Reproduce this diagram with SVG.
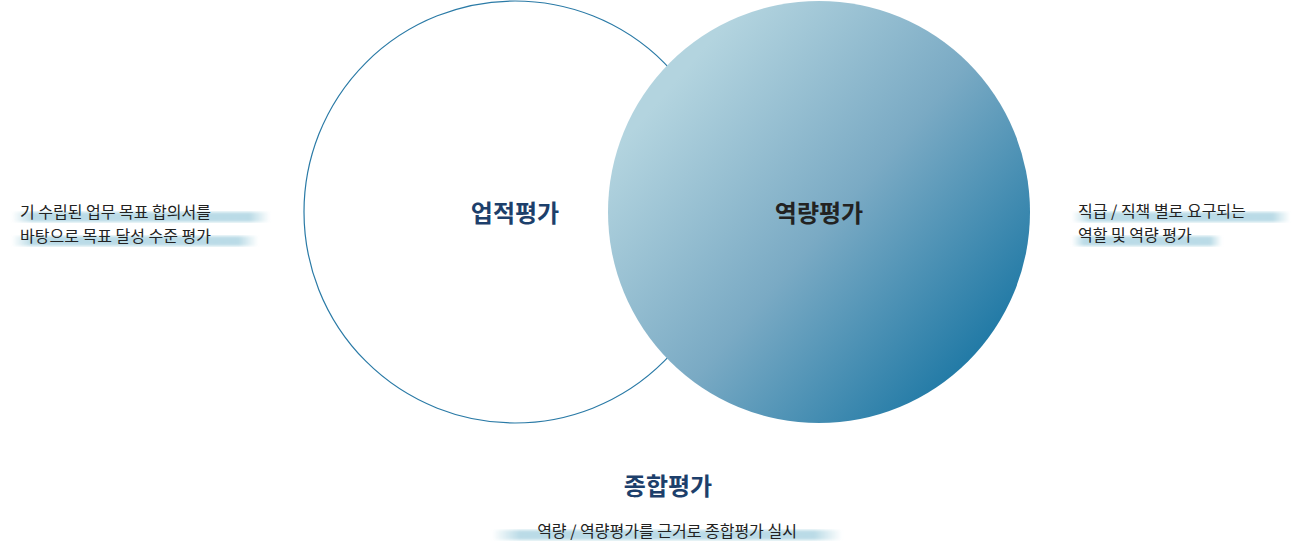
<svg xmlns="http://www.w3.org/2000/svg" width="1300" height="541" viewBox="0 0 1300 541">
<defs>
<linearGradient id="g" x1="0.15" y1="0.2" x2="0.9" y2="0.85">
<stop offset="0" stop-color="#b3d4df"/><stop offset="0.5" stop-color="#7aaac4"/><stop offset="1" stop-color="#1c77a4"/>
</linearGradient>
<linearGradient id="hl" x1="0" x2="1">
<stop offset="0" stop-color="#a9d2e0" stop-opacity="0"/><stop offset="0.08" stop-color="#a9d2e0" stop-opacity="0.8"/><stop offset="0.92" stop-color="#a9d2e0" stop-opacity="0.8"/><stop offset="1" stop-color="#a9d2e0" stop-opacity="0"/>
</linearGradient>
<filter id="b"><feGaussianBlur stdDeviation="1.5"/></filter>
<style>
.t{font-family:"Noto Sans CJK KR","Noto Sans",sans-serif;font-size:16px;fill:#222}
.h{font-family:"Noto Sans CJK KR","Noto Sans",sans-serif;font-size:24px;font-weight:bold}
.m{fill:url(#hl);filter:url(#b)}
</style>
</defs>
<g id="left-circle"><circle cx="515" cy="212" r="211" fill="#fff" stroke="#2a7aa6" stroke-width="1.2"/><text class="h" x="515" y="222" text-anchor="middle" fill="#1d3f6b">업적평가</text></g>
<g id="right-circle"><circle cx="819" cy="212" r="211" fill="url(#g)"/><text class="h" x="819" y="222" text-anchor="middle" fill="#222">역량평가</text></g>
<g id="left-note">
<rect class="m" x="12" y="212" width="258" height="10"/><rect class="m" x="12" y="236" width="246" height="10"/>
<text class="t" x="20" y="218">기 수립된 업무 목표 합의서를</text><text class="t" x="20" y="242">바탕으로 목표 달성 수준 평가</text></g>
<g id="right-note">
<rect class="m" x="1072" y="212" width="218" height="10"/><rect class="m" x="1072" y="236" width="150" height="10"/>
<text class="t" x="1078" y="217">직급 / 직책 별로 요구되는</text><text class="t" x="1078" y="241">역할 및 역량 평가</text></g>
<g id="bottom">
<text class="h" x="668" y="495" text-anchor="middle" fill="#1d3f6b">종합평가</text>
<rect class="m" x="492" y="530" width="350" height="10"/>
<text class="t" x="667" y="537" text-anchor="middle">역량 / 역량평가를 근거로 종합평가 실시</text></g>
<g id="connectors"/>
</svg>
